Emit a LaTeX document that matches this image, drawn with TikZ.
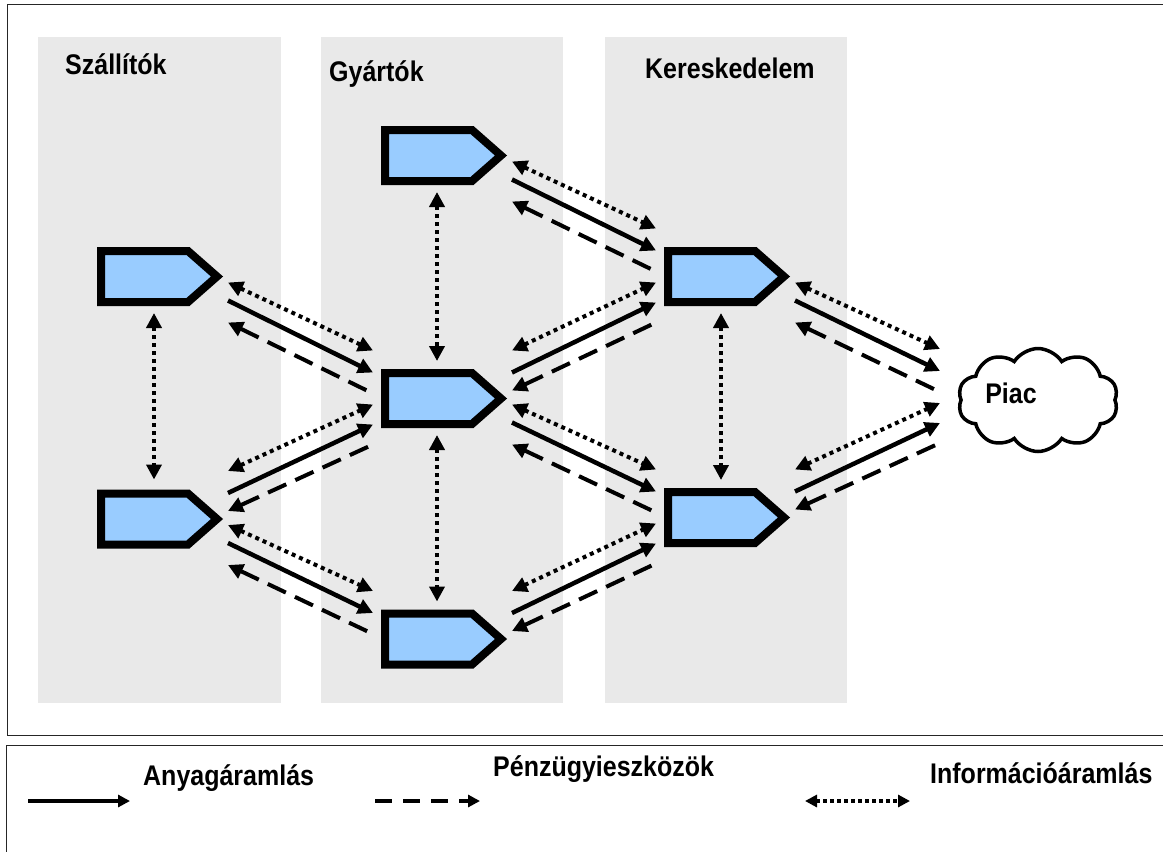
\documentclass[tikz,border=0pt]{standalone}
\usepackage{fontspec}
\setmainfont{Liberation Sans}
\newfontfamily\lblfont{Liberation Sans}[FakeStretch=0.88]
\usetikzlibrary{calc,arrows.meta,shapes.symbols}
\definecolor{colgray}{HTML}{E9E9E9}
\definecolor{firmblue}{HTML}{99CCFF}
\tikzset{
 firmbox/.style={minimum width=126pt,minimum height=59pt,inner sep=0pt,outer sep=0pt},
 firmline/.style={draw=black,fill=firmblue,line width=8pt,line join=miter},
 matflow/.style={line width=4.5pt,-{Triangle[length=15pt,width=15pt]}},
 finflow/.style={line width=4pt,dash pattern=on 20pt off 10pt,{Triangle[length=15pt,width=15pt]}-},
 infoflow/.style={line width=4pt,dash pattern=on 4pt off 4pt,{Triangle[length=15pt,width=15pt]}-{Triangle[length=15pt,width=15pt]}},
 legmat/.style={line width=3.5pt,-{Triangle[length=12pt,width=12pt]}},
 legfin/.style={line width=3.5pt,dash pattern=on 17pt off 11pt,-{Triangle[length=12pt,width=12pt]}},
 leginfo/.style={line width=3.5pt,dash pattern=on 3.5pt off 3.5pt,{Triangle[length=12pt,width=12pt]}-{Triangle[length=12pt,width=12pt]}},
 lbl/.style={font=\lblfont\bfseries\fontsize{28.4}{32}\selectfont,inner sep=0pt,anchor=base west},
 column/.style={fill=colgray,draw=none},
 frameline/.style={draw=black!85,line width=1pt},
}
\newcommand\firm[2]{%
 \node[firmbox] (#1) at (#2) {};
 \draw[firmline] ($(#1.center)+(-59,-25.5)$) -- ($(#1.center)+(28,-25.5)$) -- ($(#1.center)+(57,0)$) -- ($(#1.center)+(28,25.5)$) -- ($(#1.center)+(-59,25.5)$) -- cycle;}
\newcommand\flowdown[2]{%
 \draw[infoflow] ($(#1)+(5,6)$) -- ($(#2)+(-8,-48)$);
 \draw[matflow] ($(#1)+(5,24)$) -- ($(#2)+(-8,-26)$);
 \draw[finflow] ($(#1)+(5,46)$) -- ($(#2)+(-8,-5)$);}
\newcommand\flowup[2]{%
 \draw[infoflow] ($(#1)+(5,-48)$) -- ($(#2)+(-8,6)$);
 \draw[matflow] ($(#1)+(5,-26)$) -- ($(#2)+(-8,26)$);
 \draw[finflow] ($(#1)+(5,-8)$) -- ($(#2)+(-8,46)$);}
\begin{document}
\begin{tikzpicture}[x=1pt,y=-1pt]
\useasboundingbox (0,0) rectangle (1163,852);
\clip (0,0) rectangle (1163,852);
% frames
\draw[frameline] (7,4) rectangle (1180,735);
\draw[frameline] (6,745) rectangle (1180,870);
% columns
\fill[column] (38,37) rectangle (281,703);
\fill[column] (321,37) rectangle (563,703);
\fill[column] (605,37) rectangle (847,703);
\node[lbl] (tsz) at (65,74) {Szállítók};
\node[lbl] (tgy) at (329,81) {Gyártók};
\node[lbl] (tke) at (645,78) {Kereskedelem};
% firms
\firm{s1}{160,276.5}
\firm{s2}{160,519}
\firm{g1}{444,155.5}
\firm{g2}{444,398.5}
\firm{g3}{444,639}
\firm{k1}{727,276.5}
\firm{k2}{727,517.5}
% market
\node[cloud,draw,line width=3.5pt,cloud puffs=10,cloud puff arc=115,aspect=1.6,minimum width=160pt,minimum height=103pt,inner sep=0pt] (piac) at (1038,400) {};
\node[font=\lblfont\bfseries\fontsize{28.4}{32}\selectfont,inner sep=0pt] (piactxt) at (1011,393) {Piac};
\coordinate (piacw) at (948,397);
% vertical info flows
\draw[infoflow] ($(s1.south)+(-6,7)$) -- ($(s2.north)+(-6,-10)$);
\draw[infoflow] ($(g1.south)+(-7,7)$) -- ($(g2.north)+(-7,-8)$);
\draw[infoflow] ($(g2.south)+(-7,7)$) -- ($(g3.north)+(-7,-8)$);
\draw[infoflow] ($(k1.south)+(-6,7)$) -- ($(k2.north)+(-6,-8)$);
% diagonal flows
\flowdown{s1.east}{g2.west}
\flowup{s2.east}{g2.west}
\flowdown{s2.east}{g3.west}
\flowdown{g1.east}{k1.west}
\flowup{g2.east}{k1.west}
\flowdown{g2.east}{k2.west}
\flowup{g3.east}{k2.west}
\flowdown{k1.east}{piacw}
\flowup{k2.east}{piacw}
% legend
\coordinate (lma) at (28,801); \coordinate (lmb) at (130,801);
\coordinate (lfa) at (375,801); \coordinate (lfb) at (480,801);
\coordinate (lia) at (805,801); \coordinate (lib) at (910,801);
\draw[legmat] (lma) -- (lmb);
\draw[legfin] (lfa) -- (lfb);
\draw[leginfo] (lia) -- (lib);
\node[lbl] (lt1) at (143,785) {Anyagáramlás};
\node[lbl] (lt2) at (493,776) {Pénzügyieszközök};
\node[lbl] (lt3) at (930,783) {Információáramlás};
\end{tikzpicture}
\end{document}
